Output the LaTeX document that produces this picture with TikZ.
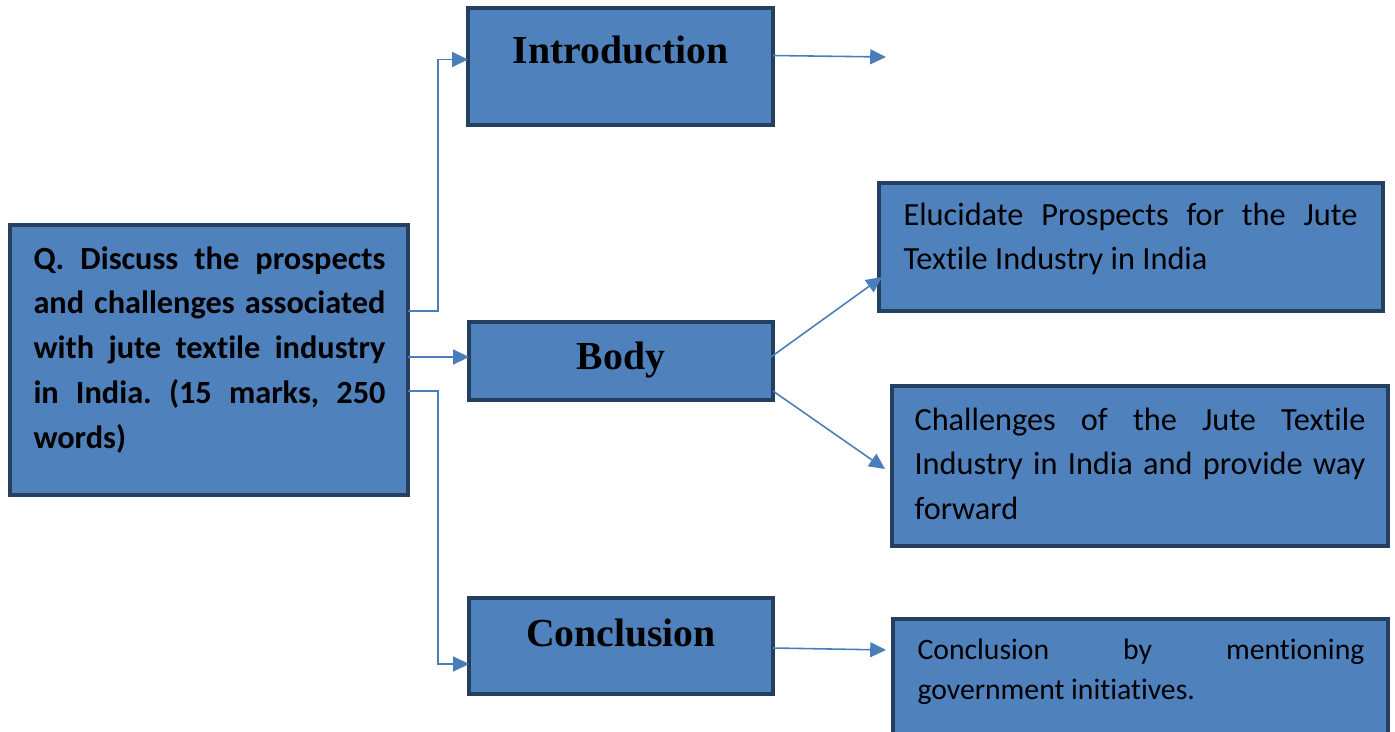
\documentclass[tikz,border=0pt]{standalone}
\usepackage{fontspec}
\setmainfont{Carlito}[Ligatures=NoCommon]
\newfontfamily\headfont{Liberation Serif}
\usetikzlibrary{arrows.meta,positioning,calc}
\frenchspacing

\definecolor{boxfill}{HTML}{4F81BD}
\definecolor{boxline}{HTML}{243F60}
\definecolor{linkcol}{HTML}{4A7EBB}

\begin{document}
\begin{tikzpicture}[x=0.02cm, y=-0.02cm, >={Triangle[length=9pt,width=8.5pt]}, semithick]
	\tikzstyle{box}=[draw=boxline, fill=boxfill, line width=2.3pt, inner sep=0pt, outer sep=0pt, anchor=north west]
	\tikzstyle{head}=[font=\headfont\bfseries\fontsize{22.6}{26}\selectfont, anchor=base]
	\tikzstyle{txt}=[align=justify, inner sep=0pt, anchor=base west, font=\fontsize{18.4}{25.6}\selectfont]
	\tikzstyle{link}=[draw=linkcol, line width=0.9pt, ->]
	\useasboundingbox (0,0) rectangle (1395,731);
	\clip (0,0) rectangle (1395,731);

	% question on the left
	\node[box, minimum width=7.96cm, minimum height=5.40cm] (qbox) at (10,225) {};
	\node[txt, text width=7.04cm, font=\bfseries\fontsize{18.4}{25.6}\selectfont] (qtext) at ($(qbox.north west)+(23,44)$)
		{Q. Discuss the prospects\linebreak and challenges associated\linebreak with jute textile industry\linebreak in India. (15 marks, 250\linebreak words)};

	% the three parts of the answer
	\node[box, minimum width=6.10cm, minimum height=2.34cm] (intro) at (468,8) {};
	\node[box, minimum width=6.08cm, minimum height=1.56cm] (body) at (469,322) {};
	\node[box, minimum width=6.08cm, minimum height=1.92cm] (concl) at (469,598) {};
	\node[head] (introlabel) at ($(intro.north)+(0,55)$) {Introduction};
	\node[head] (bodylabel) at ($(body.north)+(0,47)$) {Body};
	\node[head] (concllabel) at ($(concl.north)+(0,48)$) {Conclusion};

	% points on the right
	\node[box, minimum width=10.08cm, minimum height=2.56cm] (prosp) at (879,183) {};
	\node[box, minimum width=9.92cm, minimum height=3.20cm] (chall) at (892,386) {};
	\node[box, minimum width=9.90cm, minimum height=3.20cm] (govt) at (893,619) {};
	\node[txt, text width=9.08cm] (prosptext) at ($(prosp.north west)+(24,42)$)
		{Elucidate Prospects for the Jute\linebreak Textile Industry in India};
	\node[txt, text width=9.02cm] (challtext) at ($(chall.north west)+(22,44)$)
		{Challenges of the Jute Textile\linebreak Industry in India and provide way\linebreak forward};
	\node[txt, text width=8.94cm, font=\fontsize{16.9}{22.8}\selectfont] (govttext) at ($(govt.north west)+(24,40)$)
		{Conclusion by mentioning\linebreak government initiatives.};

	% connectors
	\coordinate (bodyin) at ($(body.west)+(0,-4)$);
	\coordinate (introend) at (886,57);
	\draw[link] ($(qbox.east)+(0,-49)$) -- ++(30,0) |- ($(intro.west)+(0,-7)$);
	\draw[link] (qbox.east |- bodyin) -- (bodyin);
	\draw[link] ($(qbox.east)+(0,31)$) -- ++(30,0) |- ($(concl.west)+(0,18)$);
	\draw[link] ($(intro.east)+(0,-11)$) -- (introend);
	\draw[link] ($(body.east)+(-2,-4)$) -- ($(prosp.west)+(3,30)$);
	\draw[link] ($(body.east)+(0,30)$) -- ($(chall.west)+(-7,3)$);
	\draw[link] ($(concl.east)+(0,2)$) -- ($(govt.west)+(-7,-49)$);
\end{tikzpicture}
\end{document}
